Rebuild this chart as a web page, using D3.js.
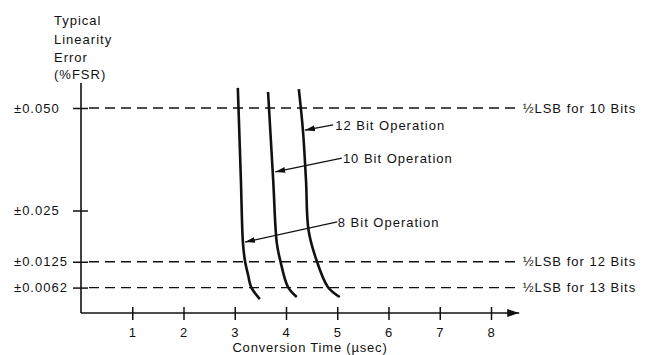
<!DOCTYPE html>
<html>
<head>
<meta charset="utf-8">
<script src="https://cdn.jsdelivr.net/npm/d3@7"></script>
<style>
  body { margin: 0; background: #fff; }
  svg text { font-family: "Liberation Sans", Arial, sans-serif; font-size: 13px; fill: #111; letter-spacing: 1px; }
</style>
</head>
<body>
<svg id="chart" width="654" height="355"></svg>
<script>
// axis ticks
const xTicks = [1, 2, 3, 4, 5, 6, 7, 8];
const yTickValues = [0.05, 0.025, 0.0125, 0.0062];
const yTickLabels = ['±0.050', '±0.025', '±0.0125', '±0.0062'];

// reference levels (½ LSB)
const refValues = [0.05, 0.0125, 0.0062];
const refLabels = ['½LSB for 10 Bits', '½LSB for 12 Bits', '½LSB for 13 Bits'];

// curves: conversion time (µsec) vs linearity error (%FSR)
const bit8 = [[3.06, 0.0549], [3.12, 0.0324], [3.16, 0.0171], [3.20, 0.0127], [3.26, 0.0093], [3.32, 0.0063], [3.49, 0.0034]];
const bit10 = [[3.65, 0.0539], [3.75, 0.0324], [3.82, 0.0171], [3.89, 0.0127], [4.04, 0.0063], [4.21, 0.0039]];
const bit12 = [[4.25, 0.0546], [4.33, 0.0446], [4.39, 0.0324], [4.44, 0.0202], [4.60, 0.0127], [4.82, 0.0063], [5.05, 0.0039]];

// annotations: label, arrow tip on curve, arrow tail, text anchor (data units)
const notes = [
  { label: '12 Bit Operation', tip: [4.37, 0.0446], tail: [4.92, 0.0459], text: [4.96, 0.0446] },
  { label: '10 Bit Operation', tip: [3.79, 0.0344], tail: [5.09, 0.0378], text: [5.11, 0.0366] },
  { label: '8 Bit Operation',  tip: [3.20, 0.0173], tail: [5.00, 0.0222], text: [5.01, 0.0210] }
];

const svg = d3.select('#chart');

const x = d3.scaleLinear().domain([0, 8]).range([81, 491]);
const y = d3.scaleLinear().domain([0, 0.05]).range([313, 108]);

const defs = svg.append('defs');
defs.append('marker')
  .attr('id', 'axisArrow')
  .attr('viewBox', '0 0 12 8')
  .attr('refX', 12).attr('refY', 4)
  .attr('markerWidth', 12).attr('markerHeight', 8)
  .attr('markerUnits', 'userSpaceOnUse')
  .attr('orient', 'auto')
  .append('path').attr('d', 'M0,0L12,4L0,8Z').attr('fill', '#111');
defs.append('marker')
  .attr('id', 'noteArrow')
  .attr('viewBox', '0 0 10 6')
  .attr('refX', 10).attr('refY', 3)
  .attr('markerWidth', 10).attr('markerHeight', 6)
  .attr('markerUnits', 'userSpaceOnUse')
  .attr('orient', 'auto')
  .append('path').attr('d', 'M0,0L10,3L0,6Z').attr('fill', '#111');

// y axis title
const title = svg.append('text').attr('x', 54).attr('y', 25);
['Typical', 'Linearity', 'Error', '(%FSR)'].forEach((t, i) => {
  title.append('tspan').attr('x', 54).attr('y', [25, 44, 62, 79][i]).text(t);
});

// reference dashed lines
svg.selectAll('line.ref')
  .data(refValues)
  .join('line')
    .attr('class', 'ref')
    .attr('x1', x(0) + 8)
    .attr('x2', x(8.5))
    .attr('y1', d => y(d))
    .attr('y2', d => y(d))
    .attr('stroke', '#111')
    .attr('stroke-width', 1.3)
    .attr('stroke-dasharray', '10,6');

svg.selectAll('text.ref')
  .data(refValues)
  .join('text')
    .attr('class', 'ref')
    .attr('x', x(8.5) + 6)
    .attr('y', d => y(d) + 4.5)
    .text((d, i) => refLabels[i]);

// y axis
const yAxis = svg.append('g')
  .attr('transform', `translate(${x(0)},0)`)
  .call(d3.axisLeft(y).tickValues(yTickValues).tickSize(0).tickFormat(''));
yAxis.select('.domain').remove();
yAxis.selectAll('.tick line')
  .attr('x1', -8).attr('x2', 7)
  .attr('stroke', '#111').attr('stroke-width', 1.5);

svg.append('line')
  .attr('x1', x(0)).attr('x2', x(0))
  .attr('y1', y(0.0561)).attr('y2', y(0))
  .attr('stroke', '#111').attr('stroke-width', 1.6);

svg.selectAll('text.ylab')
  .data(yTickValues)
  .join('text')
    .attr('class', 'ylab')
    .attr('x', 14)
    .attr('y', d => y(d) + 4.5)
    .text((d, i) => yTickLabels[i]);

// x axis
const xAxis = svg.append('g')
  .attr('transform', `translate(0,${y(0)})`)
  .call(d3.axisBottom(x).tickValues(xTicks).tickSize(0).tickFormat(d3.format('d')));
xAxis.select('.domain').remove();
xAxis.selectAll('.tick line')
  .attr('y1', -6).attr('y2', 7)
  .attr('stroke', '#111').attr('stroke-width', 1.5);
xAxis.selectAll('.tick text')
  .attr('y', 24).attr('dy', null)
  .style('font-size', '13px')
  .style('font-family', '"Liberation Sans", Arial, sans-serif')
  .attr('fill', '#111');

svg.append('line')
  .attr('x1', x(0)).attr('x2', x(8.55))
  .attr('y1', y(0)).attr('y2', y(0))
  .attr('stroke', '#111').attr('stroke-width', 1.6)
  .attr('marker-end', 'url(#axisArrow)');

svg.append('text')
  .attr('x', 310).attr('y', 352)
  .attr('text-anchor', 'middle')
  .style('letter-spacing', '0.8px')
  .text('Conversion Time (µsec)');

// curves
const line = d3.line()
  .x(d => x(d[0]))
  .y(d => y(d[1]))
  .curve(d3.curveCatmullRom.alpha(0.5));

svg.selectAll('path.curve')
  .data([bit8, bit10, bit12])
  .join('path')
    .attr('class', 'curve')
    .attr('d', line)
    .attr('fill', 'none')
    .attr('stroke', '#111')
    .attr('stroke-width', 2.6)
    .attr('stroke-linecap', 'butt');

// annotations
svg.selectAll('line.note')
  .data(notes)
  .join('line')
    .attr('class', 'note')
    .attr('x1', d => x(d.tail[0])).attr('y1', d => y(d.tail[1]))
    .attr('x2', d => x(d.tip[0])).attr('y2', d => y(d.tip[1]))
    .attr('stroke', '#111').attr('stroke-width', 1.3)
    .attr('marker-end', 'url(#noteArrow)');

svg.selectAll('text.note')
  .data(notes)
  .join('text')
    .attr('class', 'note')
    .attr('x', d => x(d.text[0]))
    .attr('y', d => y(d.text[1]))
    .text(d => d.label);
</script>
</body>
</html>
